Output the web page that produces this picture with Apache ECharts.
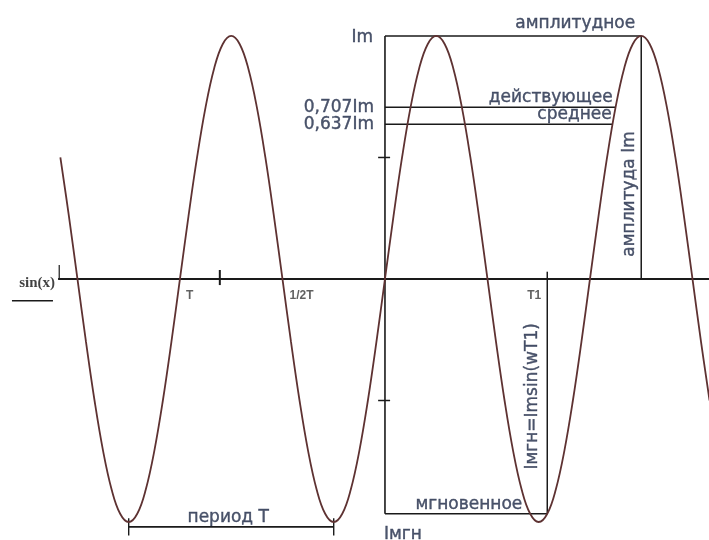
<!DOCTYPE html>
<html>
<head>
<meta charset="utf-8">
<script src="https://cdn.jsdelivr.net/npm/echarts@6/dist/echarts.min.js"></script>
<style>
  html, body { margin: 0; padding: 0; background: #ffffff; }
  #chart { width: 709px; height: 540px; }
</style>
</head>
<body>
<div id="chart"></div>
<script>
// Sine wave, phase in degrees, sampled every 15° from -570° to 570°
const phaseStart = -570;
const phaseStep = 15;
const waveValues = [
  0.5, 0.259, 0, -0.259, -0.5, -0.707, -0.866, -0.966, -1, -0.966, -0.866, -0.707, -0.5, -0.259,
  0, 0.259, 0.5, 0.707, 0.866, 0.966, 1, 0.966, 0.866, 0.707, 0.5, 0.259,
  0, -0.259, -0.5, -0.707, -0.866, -0.966, -1, -0.966, -0.866, -0.707, -0.5, -0.259,
  0, 0.259, 0.5, 0.707, 0.866, 0.966, 1, 0.966, 0.866, 0.707, 0.5, 0.259,
  0, -0.259, -0.5, -0.707, -0.866, -0.966, -1, -0.966, -0.866, -0.707, -0.5, -0.259,
  0, 0.259, 0.5, 0.707, 0.866, 0.966, 1, 0.966, 0.866, 0.707, 0.5, 0.259,
  0, -0.259, -0.5
];

// Characteristic levels (fractions of Im)
const amplitude = 1;
const rmsLevel = 0.707;
const meanLevel = 0.637;
const levelLabels = ['Im', '0,707Im', '0,637Im'];
const levelNames = ['амплитудное', 'действующее', 'среднее'];

// Phases of notable points (degrees)
const axisStart = -574;
const axisEnd = 569;
const crossT = -360;
const crossHalfT = -180;
const markTick = -290;
const periodStart = -450;
const periodEnd = -90;
const rmsCross = 405;
const meanCross = 400;
const peakPhase = 450;
const t1Phase = 285;
const instValue = -0.966;
const periodLevel = -1.02;
const halfTicks = [0.5, -0.5];

const ink = '#1a1a1a';
const textColor = '#1f2b47';
const textFont = 'DejaVu Sans';

function seg(a, b, w) {
  return {
    type: 'line', data: [a, b], symbol: 'none', silent: true,
    lineStyle: { color: ink, width: w || 1.5 }, z: 3
  };
}

function txt(pos, text, opt) {
  return {
    value: pos,
    label: Object.assign({
      show: true, formatter: text, position: 'inside',
      color: textColor, fontFamily: textFont, fontSize: 17,
      textBorderColor: textColor, textBorderWidth: 0.4,
      align: 'center', verticalAlign: 'middle'
    }, opt)
  };
}

const series = [];

// sine curve
series.push({
  type: 'line',
  data: waveValues.map((v, i) => [phaseStart + i * phaseStep, v]),
  smooth: 0.4, symbol: 'none', silent: true,
  lineStyle: { color: '#5e3232', width: 1.8 }, z: 4
});

// time axis and its marks
series.push(seg([axisStart, 0], [axisEnd, 0], 2));
series.push(seg([axisStart + 2, 0], [axisStart + 2, 0.058], 1.2));
series.push(seg([markTick, 0.037], [markTick, -0.025], 2));

// current axis
series.push(seg([0, amplitude], [0, instValue], 1.6));
halfTicks.forEach(v => series.push(seg([-12, v], [9, v], 1.5)));

// level lines
series.push(seg([0, amplitude], [peakPhase, amplitude], 1.5));
series.push(seg([0, rmsLevel], [rmsCross, rmsLevel], 1.5));
series.push(seg([0, meanLevel], [meanCross, meanLevel], 1.5));

// amplitude marker
series.push(seg([peakPhase, amplitude], [peakPhase, 0], 1.5));

// instantaneous value marker
series.push(seg([t1Phase, 0.03], [t1Phase, instValue], 1.5));
series.push(seg([0, instValue], [t1Phase, instValue], 1.5));

// period span
series.push(seg([periodStart, periodLevel], [periodEnd, periodLevel], 1.6));
series.push(seg([periodStart, periodLevel + 0.035], [periodStart, periodLevel - 0.035], 1.4));
series.push(seg([periodEnd, periodLevel + 0.035], [periodEnd, periodLevel - 0.035], 1.4));

// underline of the function name
series.push(seg([axisStart - 81, -0.09], [axisStart - 9, -0.09], 1.5));

const smallLabel = {
  fontFamily: 'Liberation Sans', fontSize: 12, fontWeight: 'bold',
  color: '#3a3a3a', textBorderWidth: 0
};

series.push({
  type: 'scatter', symbolSize: 1, silent: true, z: 5,
  itemStyle: { color: 'rgba(0,0,0,0)' },
  data: [
    txt([0, amplitude], levelLabels[0], { align: 'right', offset: [-12, 2] }),
    txt([0, rmsLevel], levelLabels[1], { align: 'right', offset: [-11, 0] }),
    txt([0, meanLevel], levelLabels[2], { align: 'right', offset: [-11, 0] }),
    txt([peakPhase, amplitude], levelNames[0], { align: 'right', verticalAlign: 'bottom', offset: [-6, -4] }),
    txt([rmsCross, rmsLevel], levelNames[1], { align: 'right', verticalAlign: 'bottom', offset: [-3, -1] }),
    txt([meanCross, meanLevel], levelNames[2], { align: 'right', verticalAlign: 'bottom', offset: [-1, -1] }),
    txt([t1Phase, instValue], 'мгновенное', { align: 'right', verticalAlign: 'bottom', offset: [-25, -1] }),
    txt([peakPhase - 20, amplitude * 0.35], 'амплитуда Im', { rotate: 90 }),
    txt([t1Phase - 26, instValue / 2], 'Iмгн=Imsin(wT1)', { rotate: 90 }),
    txt([(periodStart + periodEnd) / 2, periodLevel], 'период T', { verticalAlign: 'bottom', offset: [-3, -1] }),
    txt([0, instValue], 'Iмгн', { align: 'left', verticalAlign: 'top', offset: [-1, 12] }),
    txt([crossT, 0], 'T', Object.assign({ align: 'left', verticalAlign: 'top', offset: [6, 11] }, smallLabel)),
    txt([crossHalfT, 0], '1/2T', Object.assign({ align: 'left', verticalAlign: 'top', offset: [7, 11] }, smallLabel)),
    txt([t1Phase, 0], 'T1', Object.assign({ align: 'right', verticalAlign: 'top', offset: [-6, 11] }, smallLabel)),
    txt([axisStart, 0], 'sin(x)', {
      align: 'right', offset: [-3, 4], fontFamily: 'Liberation Serif',
      fontWeight: 'bold', fontSize: 15, color: '#111', textBorderWidth: 0
    })
  ]
});

const chart = echarts.init(document.getElementById('chart'), null, { renderer: 'canvas' });
chart.setOption({
  backgroundColor: '#ffffff',
  animation: false,
  grid: { left: 0, right: 0, top: 0, bottom: 0 },
  xAxis: { type: 'value', min: -676, max: axisEnd, show: false },
  yAxis: { type: 'value', min: -1.074, max: 1.148, show: false },
  series: series
});
</script>
</body>
</html>
